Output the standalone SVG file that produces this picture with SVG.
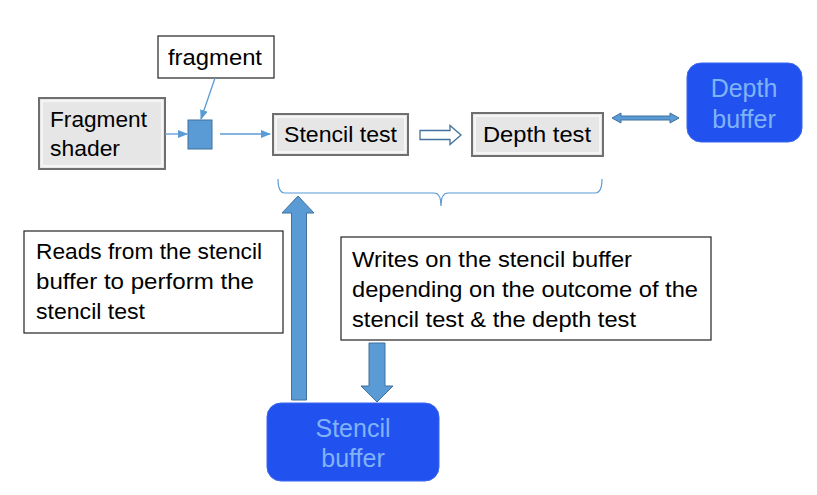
<svg xmlns="http://www.w3.org/2000/svg" width="817" height="495" viewBox="0 0 817 495">
<style>
.t{font-family:"Liberation Sans",Arial,sans-serif;fill:#000;font-size:22px;}
.gbox{fill:#e6e6e6;stroke:#6f6f6f;stroke-width:2;}
.gin{fill:none;stroke:#fafafa;stroke-width:1.5;}
.wbox{fill:#fff;stroke:#222;stroke-width:1.2;}
.bbox{fill:#2152f0;stroke:#3a66f0;stroke-width:1;}
.bt{font-family:"Liberation Sans",Arial,sans-serif;fill:#80b3f6;font-size:25px;text-anchor:middle;}
.thin{stroke:#5b9bd5;stroke-width:1.3;fill:none;}
.fat{fill:#5b9bd5;stroke:#41719c;stroke-width:1;}
</style>
<defs>
<marker id="ah" markerWidth="10" markerHeight="8" refX="9" refY="4" orient="auto" markerUnits="userSpaceOnUse">
<path d="M0,0 L10,4 L0,8 Z" fill="#5b9bd5"/>
</marker>
</defs>
<rect width="817" height="495" fill="#fff"/>

<g id="fragment-shader">
<rect class="gbox" x="39" y="98" width="126" height="71"/>
<rect class="gin" x="42" y="101" width="120" height="65"/>
<text class="t" x="50" y="127" textLength="97" lengthAdjust="spacingAndGlyphs">Fragment</text>
<text class="t" x="50" y="156" textLength="70" lengthAdjust="spacingAndGlyphs">shader</text>
</g>

<g id="fragment-label">
<rect class="wbox" x="158" y="36" width="116" height="42"/>
<text class="t" x="168" y="65" textLength="94" lengthAdjust="spacingAndGlyphs">fragment</text>
</g>

<g id="fragment">
<rect x="188" y="120" width="24" height="29" fill="#5b9bd5" stroke="#41719c" stroke-width="1"/>
</g>

<g id="stencil-test">
<rect class="gbox" x="273" y="114" width="135" height="41"/>
<rect class="gin" x="276" y="117" width="129" height="35"/>
<text class="t" x="284" y="142" textLength="113" lengthAdjust="spacingAndGlyphs">Stencil test</text>
</g>

<g id="depth-test">
<rect class="gbox" x="472" y="113" width="131" height="43"/>
<rect class="gin" x="475" y="116" width="125" height="37"/>
<text class="t" x="483" y="142" textLength="108" lengthAdjust="spacingAndGlyphs">Depth test</text>
</g>

<g id="depth-buffer">
<rect class="bbox" x="687" y="63" width="115" height="79" rx="14"/>
<text class="bt" x="744" y="97">Depth</text>
<text class="bt" x="744" y="128">buffer</text>
</g>

<g id="stencil-buffer">
<rect class="bbox" x="267" y="403" width="172" height="78" rx="14"/>
<text class="bt" x="353" y="437">Stencil</text>
<text class="bt" x="353" y="467">buffer</text>
</g>

<g id="reads-note">
<rect class="wbox" x="24" y="231" width="259" height="102"/>
<text class="t" x="36" y="259" textLength="226" lengthAdjust="spacingAndGlyphs">Reads from the stencil</text>
<text class="t" x="36" y="289" textLength="218" lengthAdjust="spacingAndGlyphs">buffer to perform the</text>
<text class="t" x="36" y="319" textLength="109" lengthAdjust="spacingAndGlyphs">stencil test</text>
</g>

<g id="writes-note">
<rect class="wbox" x="341" y="237" width="370" height="103"/>
<text class="t" x="352" y="267" textLength="280" lengthAdjust="spacingAndGlyphs">Writes on the stencil buffer</text>
<text class="t" x="352" y="297" textLength="346" lengthAdjust="spacingAndGlyphs">depending on the outcome of the</text>
<text class="t" x="352" y="327" textLength="284" lengthAdjust="spacingAndGlyphs">stencil test &amp; the depth test</text>
</g>

<g id="connectors">
<line class="thin" x1="165" y1="134" x2="187" y2="134" marker-end="url(#ah)"/>
<line class="thin" x1="215" y1="78" x2="201" y2="119" marker-end="url(#ah)"/>
<line class="thin" x1="220" y1="134" x2="270" y2="134" marker-end="url(#ah)"/>
<path d="M420,130.5 L450,130.5 L450,125.5 L461,135 L450,144.5 L450,139.5 L420,139.5 Z" fill="#fff" stroke="#41719c" stroke-width="1.3"/>
<path class="fat" d="M612,118 L621,113 L621,116 L670,116 L670,113 L679,118 L670,123 L670,120 L621,120 L621,123 Z"/>
<path d="M278,179 Q278,193 285,193 L434,193 Q441,193 441,206 Q441,193 448,193 L595,193 Q602,193 602,179" fill="none" stroke="#5b9bd5" stroke-width="1.2"/>
<path class="fat" d="M298,196 L314,213 L306.5,213 L306.5,400 L291.5,400 L291.5,213 L282,213 Z"/>
<path class="fat" d="M369,343 L385,343 L385,386 L393,386 L377,402 L361,386 L369,386 Z"/>
</g>
</svg>
